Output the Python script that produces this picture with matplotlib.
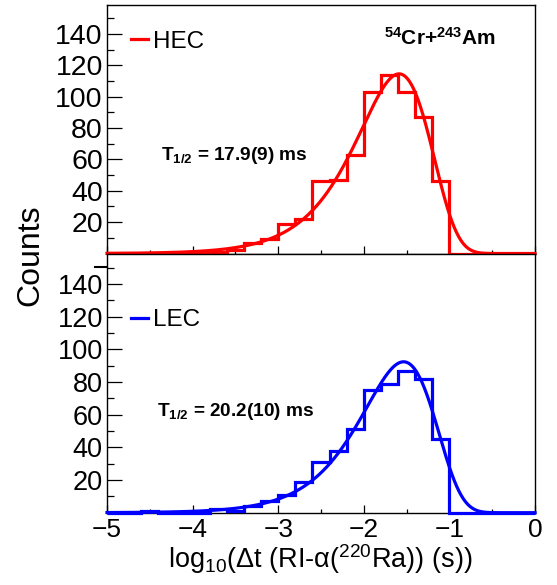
import numpy as np
import matplotlib
matplotlib.use("Agg")
import matplotlib.pyplot as plt
from matplotlib.ticker import MultipleLocator, FixedLocator
from matplotlib.lines import Line2D

plt.rcParams['font.family'] = ['Liberation Sans', 'DejaVu Sans']
plt.rcParams['mathtext.fontset'] = 'custom'
plt.rcParams['mathtext.rm'] = 'Liberation Sans'
plt.rcParams['mathtext.it'] = 'Liberation Sans:italic'
plt.rcParams['mathtext.bf'] = 'Liberation Sans:bold'

# ---------------- data ----------------
bin_edges = [-5.0, -4.8, -4.6, -4.4, -4.2, -4.0, -3.8, -3.6, -3.4, -3.2, -3.0,
             -2.8, -2.6, -2.4, -2.2, -2.0, -1.8, -1.6, -1.4, -1.2, -1.0,
             -0.8, -0.6, -0.4, -0.2, 0.0]
hec_counts = [0, 0, 0, 0, 0, 1, 1, 2, 7, 9, 19, 22, 46, 47, 63, 103, 114, 103,
              87, 46, 0, 0, 0, 0, 0]
lec_counts = [0, 0, 1, 0, 0, 0, 2, 1, 4, 7, 11, 19, 31, 38, 51, 75, 79, 87,
              82, 45, 0, 0, 0, 0, 0]
hec_half_life_ms = 17.9
lec_half_life_ms = 20.2
hec_fit_peak = 114.5
lec_fit_peak = 92.4
hec_label = 'HEC'
lec_label = 'LEC'
hec_text = r'T$_{\mathbf{1/2}}$ = 17.9(9) ms'
lec_text = r'T$_{\mathbf{1/2}}$ = 20.2(10) ms'
reaction = r'$^{\mathbf{54}}$Cr+$^{\mathbf{243}}$Am'
x_ticks = [-5, -4, -3, -2, -1, 0]
y_ticks = [20, 40, 60, 80, 100, 120, 140]


def schmidt(x, half_life_ms, peak):
    # Schmidt log-time decay distribution (log10 scale), peak at log10(tau)
    x0 = np.log10(half_life_ms * 1e-3 / np.log(2))
    u = 10.0 ** (x - x0)
    return peak * np.e * u * np.exp(-u)


W, H = 557, 585
fig = plt.figure(figsize=(W / 100, H / 100), dpi=100)

left = 107 / W
width = 428 / W
top_ax = fig.add_axes([left, 1 - 253.5 / H, width, 249 / H])
bot_ax = fig.add_axes([left, 1 - 512.7 / H, width, 259.2 / H])

xfit = np.linspace(-5, 0, 800)

for ax, counts, hl, pk, color, ylabsize in [
        (top_ax, hec_counts, hec_half_life_ms, hec_fit_peak, '#ff0000', 20.5),
        (bot_ax, lec_counts, lec_half_life_ms, lec_fit_peak, '#0000ff', 19.5)]:
    ax.stairs(counts, bin_edges, color=color, lw=2.3, baseline=0,
              clip_on=False, zorder=3)
    ax.plot(xfit, schmidt(xfit, hl, pk), color=color, lw=2.3,
            clip_on=False, zorder=3)
    ax.set_xlim(-5, 0)
    ax.set_ylim(0, 158.7)
    ax.xaxis.set_major_locator(FixedLocator(x_ticks))
    ax.xaxis.set_minor_locator(MultipleLocator(0.5))
    ax.yaxis.set_major_locator(FixedLocator(y_ticks))
    ax.yaxis.set_minor_locator(MultipleLocator(10))
    ax.tick_params(axis='x', which='major', direction='in', length=5.5,
                   width=0.9, labelsize=19, pad=4)
    ax.tick_params(axis='x', which='minor', direction='in', length=2.8,
                   width=0.9)
    ax.tick_params(axis='y', which='major', direction='in', length=10.8,
                   width=0.9, labelsize=ylabsize, pad=3)
    ax.tick_params(axis='y', which='minor', direction='in', length=5.2,
                   width=0.9)
    for sp in ax.spines.values():
        sp.set_linewidth(1.0)

top_ax.tick_params(axis='x', labelbottom=False)

# legends
top_ax.legend(handles=[Line2D([], [], color='#ff0000', lw=2.3)],
              labels=[hec_label], loc='center left',
              bbox_to_anchor=(0.056, 0.851), borderaxespad=0, borderpad=0,
              handlelength=0.7, handletextpad=0.2, frameon=False,
              fontsize=17.5)
bot_ax.legend(handles=[Line2D([], [], color='#0000ff', lw=2.3)],
              labels=[lec_label], loc='center left',
              bbox_to_anchor=(0.056, 0.743), borderaxespad=0, borderpad=0,
              handlelength=0.7, handletextpad=0.2, frameon=False,
              fontsize=17.5)

top_ax.text(0.127, 0.3755, hec_text, transform=top_ax.transAxes,
            fontsize=13.7, fontweight='bold', va='baseline', ha='left')
bot_ax.text(0.117, 0.373, lec_text, transform=bot_ax.transAxes,
            fontsize=13.7, fontweight='bold', va='baseline', ha='left')
top_ax.text(0.647, 0.839, reaction, transform=top_ax.transAxes,
            fontsize=15, fontweight='bold', va='baseline', ha='left')

# small outward tick mark left of the pad boundary (as in the original)
fig.add_artist(Line2D([95 / W, 106.5 / W], [1 - 267 / H, 1 - 267 / H],
                      color='black', lw=1.5))

fig.text(30 / W, 1 - 255 / H, 'Counts', rotation=90, fontsize=23,
         ha='center', va='center')
fig.text(0.575, 1 - 568 / H,
         r'log$_{\mathrm{10}}$(Δt (RI-α($^{\mathrm{220}}$Ra)) (s))',
         fontsize=19.5, ha='center', va='baseline')

fig.savefig('out.png', dpi=100)
